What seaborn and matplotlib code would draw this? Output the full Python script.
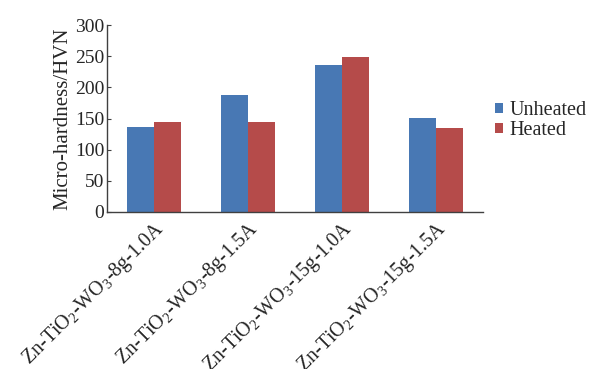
import pandas as pd
import numpy as np
import seaborn as sns
import matplotlib.pyplot as plt

# Datos
samples = ['Zn-TiO$_2$-WO$_3$-8g-1.0A', 'Zn-TiO$_2$-WO$_3$-8g-1.5A',
           'Zn-TiO$_2$-WO$_3$-15g-1.0A', 'Zn-TiO$_2$-WO$_3$-15g-1.5A']
unheated = [136, 187, 236, 151]
heated = [144, 144, 249, 135]
conditions = ['Unheated', 'Heated']

df = pd.DataFrame({
    'sample': samples * 2,
    'hardness': unheated + heated,
    'condition': [conditions[0]] * 4 + [conditions[1]] * 4,
})

sns.set_style("white")
plt.rcParams['font.family'] = ['Liberation Serif', 'DejaVu Serif']
plt.rcParams['mathtext.fontset'] = 'custom'
plt.rcParams['mathtext.rm'] = 'Liberation Serif'
plt.rcParams['mathtext.it'] = 'Liberation Serif'
plt.rcParams['mathtext.default'] = 'rm'

fig = plt.figure(figsize=(5.96, 3.69), dpi=100)
ax = fig.add_axes([0.1795, 0.4255, 0.6309, 0.5065])

sns.barplot(data=df, x='sample', y='hardness', hue='condition', ax=ax,
            palette=['#4878b4', '#b54b4a'], width=0.57, gap=0,
            saturation=1, edgecolor='none')

ax.set_ylim(0, 300)
ax.set_yticks(np.arange(0, 301, 50))
ax.set_xlim(-0.5, 3.5)
ax.set_xlabel('')
ax.set_ylabel('Micro-hardness/HVN', fontsize=15, labelpad=2)

# ticks del eje x entre grupos
ax.set_xticks(np.arange(-0.5, 4, 1), minor=False)
ax.set_xticklabels([])
ax.set_xticks(np.arange(0, 4), minor=True)
ax.set_xticklabels(samples, minor=True, rotation=45, ha='right',
                   rotation_mode='anchor', fontsize=14.5)
ax.tick_params(axis='x', which='minor', length=0, pad=4)
ax.tick_params(axis='x', which='major', direction='in', length=3,
               color='#404040')
ax.tick_params(axis='y', direction='in', length=3, color='#404040',
               labelsize=14, pad=2, left=True)

for side in ['top', 'right']:
    ax.spines[side].set_visible(False)
for side in ['left', 'bottom']:
    ax.spines[side].set_color('#404040')
    ax.spines[side].set_linewidth(1.0)

ax.legend(loc='center left', bbox_to_anchor=(1.0, 0.49), frameon=False,
          fontsize=14.5, handlelength=0.4, handleheight=0.4,
          handletextpad=0.3, labelspacing=0.05, borderaxespad=0.2)

plt.savefig('out.png', dpi=100)
